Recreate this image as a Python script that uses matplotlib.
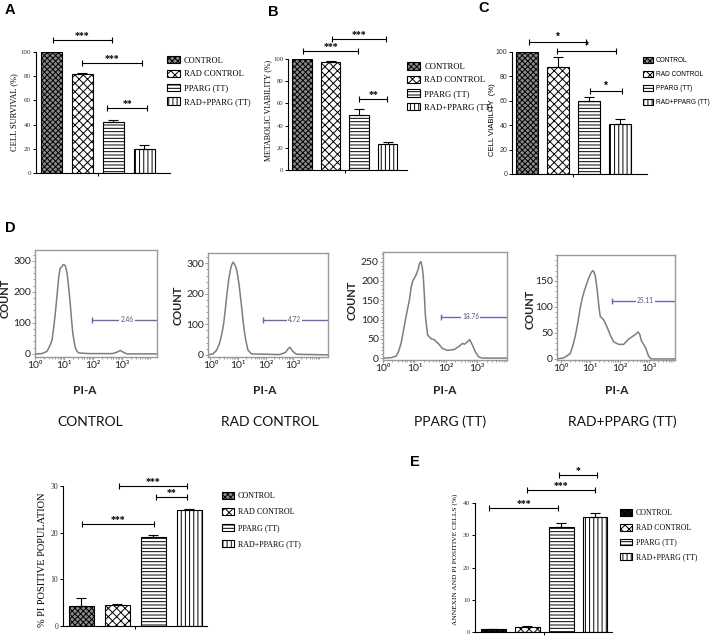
import matplotlib
matplotlib.use('Agg')
import matplotlib.pyplot as plt
from matplotlib.ticker import MultipleLocator
import numpy as np

# figure size in pixels
W, H = 717, 640

groups = ['CONTROL', 'RAD CONTROL', 'PPARG (TT)', 'RAD+PPARG (TT)']

# panel A, B, C
survival = [100, 82, 42, 20]
survival_err = [0, 0.5, 2, 3.5]
metabolic = [100, 97, 50, 23]
metabolic_err = [0, 1, 5, 2]
viability = [100, 88, 60, 41]
viability_err = [0, 8, 3, 4]
# PI positive population and panel E
pi_pos = [4.3, 4.6, 19.0, 24.8]
pi_pos_err = [1.8, 0.1, 0.5, 0.2]
annexin = [0.8, 1.7, 32.7, 35.8]
annexin_err = [0.1, 0.3, 1.1, 1.2]

# significance brackets: x start, x end, y, stars
sig_a = [(0.05, 1.95, 110, '***'), (1.0, 2.92, 91, '***'), (1.8, 3.1, 54, '**')]
sig_b = [(0.04, 1.96, 107, '***'), (1.05, 2.95, 118, '***'), (2.0, 2.98, 64, '**')]
sig_c = [(0.06, 1.92, 108, '*'), (0.96, 2.89, 101, '*'), (2.04, 3.07, 68, '*')]
sig_pi = [(0.01, 2.01, 21.8, '***'), (1.04, 2.93, 30, '***'), (2.08, 2.93, 27.6, '**')]
sig_e = [(-0.12, 1.9, 38.4, '***'), (1.0, 3.0, 43.9, '***'), (1.93, 3.06, 48.6, '*')]

# flow histograms (x in decades of PI-A, y = count)
ctrl_x = [0.0, 0.07, 0.24, 0.41, 0.52, 0.59, 0.65, 0.70, 0.76, 0.82, 0.87, 0.92, 0.97, 1.01, 1.05, 1.10, 1.13,
          1.18, 1.22, 1.26, 1.30, 1.35, 1.39, 1.45, 1.51, 1.85, 2.66, 2.75, 2.83, 2.94, 3.06, 3.17, 4.2]
ctrl_y = [0, 0, 1, 8, 28, 46, 90, 132, 190, 250, 277, 280, 288, 287, 283, 262, 240,
          195, 154, 108, 68, 38, 19, 8, 3, 1, 1, 3, 6, 11, 4, 0, 0]
rad_x = [-0.09, 0.09, 0.22, 0.33, 0.41, 0.48, 0.54, 0.60, 0.66, 0.72, 0.77, 0.82, 0.87, 0.92, 0.96, 1.00, 1.05,
         1.09, 1.14, 1.18, 1.23, 1.28, 1.36, 1.49, 2.52, 2.73, 2.82, 2.88, 3.00, 3.12, 4.27]
rad_y = [0, 3, 15, 38, 68, 103, 150, 201, 245, 277, 295, 304, 298, 288, 275, 255, 222,
         190, 150, 114, 78, 49, 16, 3, 1, 8, 20, 25, 11, 2, 0]
pparg_x = [0.04, 0.26, 0.42, 0.50, 0.58, 0.66, 0.74, 0.80, 0.84, 0.90, 0.95, 1.05, 1.12, 1.16, 1.21, 1.25, 1.28,
           1.32, 1.35, 1.42, 1.53, 1.63, 1.70, 1.76, 1.89, 2.05, 2.26, 2.42, 2.53, 2.60, 2.66, 2.76, 2.84, 2.95,
           3.05, 3.16, 3.95]
pparg_y = [0, 1, 5, 18, 40, 75, 110, 135, 150, 185, 200, 215, 230, 245, 250, 235, 215,
           160, 110, 60, 50, 48, 42, 38, 25, 20, 22, 30, 38, 36, 40, 48, 35, 15,
           3, 0, 0]
radpparg_x = [-0.14, 0.09, 0.31, 0.40, 0.49, 0.58, 0.66, 0.73, 0.79, 0.86, 0.94, 1.02, 1.08, 1.12, 1.17, 1.22,
              1.26, 1.30, 1.34, 1.46, 1.57, 1.69, 1.80, 1.97, 2.14, 2.31, 2.49, 2.57, 2.63, 2.69, 2.75, 2.89, 3.00,
              3.08, 3.92]
radpparg_y = [0, 2, 10, 25, 45, 72, 100, 118, 130, 142, 155, 165, 170, 168, 160, 140,
              120, 98, 82, 75, 62, 45, 33, 28, 28, 38, 45, 48, 52, 48, 35, 22, 5,
              0, 0]
flow_x = [ctrl_x, rad_x, pparg_x, radpparg_x]
flow_y = [ctrl_y, rad_y, pparg_y, radpparg_y]
gate_text = ['2.46', '4.72', '18.76', '25.11']

serif = 'Liberation Serif'
sans = 'Liberation Sans'
flowfont = ['Lato', 'DejaVu Sans']

plt.rcParams['hatch.linewidth'] = 0.7

fig = plt.figure(figsize=(W / 100, H / 100), dpi=100)


def px_axes(l, t, r, b):
    return fig.add_axes([l / W, 1 - b / H, (r - l) / W, (b - t) / H])


def ftext(x, y, s, **kw):
    fig.text(x / W, 1 - y / H, s, **kw)


def bar_panel(box, vals, errs, width, xlim, ylim, ystep, sig, font, fs, ctrl_face, leg_xy, leg_fs, leg_space):
    ax = px_axes(*box)
    faces = [ctrl_face, 'white', 'white', 'white']
    hatches = ['xxxxxx', 'xxxx', '-----', '||||']
    bars = []
    for i in range(4):
        b = ax.bar(i, vals[i], width, yerr=[[0], [errs[i]]], facecolor=faces[i], hatch=hatches[i],
                   edgecolor='black', linewidth=0.8, capsize=3.5,
                   error_kw=dict(elinewidth=0.8, capthick=0.8, ecolor='black'))
        bars.append(b)
    ax.set_xlim(xlim)
    ax.set_ylim(ylim)
    ax.set_yticks(np.arange(ylim[0], ylim[1] + 0.1, ystep))
    ax.set_xticks([1.5])
    ax.set_xticklabels([''])
    for sp in ['top', 'right']:
        ax.spines[sp].set_visible(False)
    for sp in ['left', 'bottom']:
        ax.spines[sp].set_linewidth(0.8)
    ax.tick_params(direction='out', length=2.5, width=0.7, labelsize=fs, pad=1)
    for lab in ax.get_yticklabels():
        lab.set_family(font)
        lab.set_color('#333333')
    for x0, x1, y, s in sig:
        ax.plot([x0, x1], [y, y], color='black', lw=0.8, clip_on=False,
                marker='|', markersize=5, markeredgewidth=0.8)
        ax.text((x0 + x1) / 2, y, s, ha='center', va='bottom', fontsize=7, fontweight='bold',
                family=font, clip_on=False)
    ax.legend(bars, groups, loc='upper left', bbox_to_anchor=(leg_xy[0] / W, 1 - leg_xy[1] / H),
              bbox_transform=fig.transFigure, frameon=False, prop=dict(family=font, size=leg_fs),
              handlelength=1.5, handleheight=1.0, labelspacing=leg_space, handletextpad=0.5,
              borderpad=0, borderaxespad=0)
    return ax


# A
bar_panel((36, 52, 170, 173), survival, survival_err, 0.68, (-0.5, 3.84), (0, 100), 20, sig_a,
          serif, 5, '#8a8a8a', (167, 56), 6, 0.62)
ftext(14, 112, 'CELL SURVIVAL (%)', rotation=90, ha='center', va='center', family=serif, fontsize=6)
ftext(10, 10, 'A', fontsize=10.5, fontweight='bold', family=sans, ha='center', va='center')

# B
bar_panel((288, 59, 407, 170), metabolic, metabolic_err, 0.67, (-0.49, 3.68), (0, 100), 20, sig_b,
          serif, 4.8, '#8a8a8a', (407, 62), 6.2, 0.55)
ftext(268, 110, 'METABOLIC VIABILITY (%)', rotation=90, ha='center', va='center', family=serif, fontsize=5.8)
ftext(273, 12, 'B', fontsize=10.5, fontweight='bold', family=sans, ha='center', va='center')

# C
bar_panel((512, 52, 647, 174), viability, viability_err, 0.71, (-0.49, 3.89), (0, 100), 20, sig_c,
          sans, 5, '#8a8a8a', (643, 57), 4.7, 1.05)
ftext(493, 120, 'CELL VIABILITY  (%)', rotation=90, ha='center', va='center', family=sans, fontsize=5.5)
ftext(484, 8, 'C', fontsize=10.5, fontweight='bold', family=sans, ha='center', va='center')

# D - flow histograms
ftext(10, 228, 'D', fontsize=10.5, fontweight='bold', family=sans, ha='center', va='center')
hist_boxes = [(35, 250, 157, 357), (208, 253, 328, 357), (383, 252, 507, 360), (557, 255, 675, 360)]
hist_xlim = [(0.05, 4.2), (-0.09, 4.27), (0.04, 3.95), (-0.14, 3.9)]
hist_ylim = [(-10, 335), (-7, 334), (-5, 275), (-2, 200)]
hist_ystep = [100, 100, 50, 50]
hist_yminor = [20, 20, 10, 10]
gate_y = [110, 115, 107, 112]
gate_x0 = [1.97, 1.9, 1.84, 1.74]
gate_tx = [3.17, 3.06, 2.79, 2.88]
count_x = [5, 178, 352, 530]
count_y = [298, 305, 300, 309]
label_x = [85, 265, 445, 617]
for k in range(4):
    ax = px_axes(*hist_boxes[k])
    ax.plot(flow_x[k], flow_y[k], color='#7d7d7d', lw=1.1)
    for sp in ax.spines.values():
        sp.set_color('#9a9a9a')
        sp.set_linewidth(1)
    ax.set_xlim(hist_xlim[k])
    ax.set_ylim(hist_ylim[k])
    ax.set_xticks([0, 1, 2, 3])
    ax.set_xticklabels(['10\u2070', '10\u00b9', '10\u00b2', '10\u00b3'])
    minor = [d + np.log10(m) for d in range(0, 5) for m in range(2, 10)]
    minor = [v for v in minor if hist_xlim[k][0] < v < hist_xlim[k][1]]
    ax.set_xticks(minor, minor=True)
    ax.set_yticks(np.arange(0, hist_ylim[k][1], hist_ystep[k]))
    ax.yaxis.set_minor_locator(MultipleLocator(hist_yminor[k]))
    ax.tick_params(which='both', direction='out', length=2, width=0.5, colors='#777777',
                   labelcolor='#222222', labelsize=7.5, pad=1)
    ax.tick_params(which='minor', length=1.2)
    for lab in ax.get_xticklabels() + ax.get_yticklabels():
        lab.set_family(flowfont)
    ax.plot([gate_x0[k], hist_xlim[k][1]], [gate_y[k], gate_y[k]], color='#6a6ab0', lw=1.0)
    ax.plot([gate_x0[k]], [gate_y[k]], marker='|', markersize=4, color='#6a6ab0', markeredgewidth=1)
    ax.text(gate_tx[k], gate_y[k], gate_text[k], ha='center', va='center', fontsize=4.8, color='#555577',
            family=flowfont, bbox=dict(facecolor='white', edgecolor='none', pad=0.8))
    ftext(count_x[k], count_y[k], 'COUNT', rotation=90, ha='center', va='center', family=flowfont,
          fontsize=8, fontweight='bold', color='#222222')
    ftext(label_x[k], 390, 'PI-A', ha='center', va='center', family=flowfont, fontsize=8.5,
          fontweight='bold', color='#222222')
    ftext(label_x[k] + 5, 422, groups[k], ha='center', va='center', family=flowfont, fontsize=10,
          color='#111111')

# PI positive population
bar_panel((63, 486, 207, 626), pi_pos, pi_pos_err, 0.68, (-0.51, 3.49), (0, 30), 10, sig_pi,
          serif, 5.5, '#8a8a8a', (222, 492), 5.8, 0.95)
ftext(43, 560, '% PI POSITIVE POPULATION', rotation=90, ha='center', va='center', family=serif, fontsize=7.5)

# E
bar_panel((475, 503, 612, 632), annexin, annexin_err, 0.73, (-0.54, 3.5), (0, 40), 10, sig_e,
          serif, 5, '#111111', (620, 509), 5.6, 0.85)
ftext(455, 559, 'ANNEXIN AND PI POSITIVE CELLS (%)', rotation=90, ha='center', va='center', family=serif,
      fontsize=5.3)
ftext(415, 462, 'E', fontsize=10.5, fontweight='bold', family=sans, ha='center', va='center')

fig.savefig('out.png', dpi=100)
